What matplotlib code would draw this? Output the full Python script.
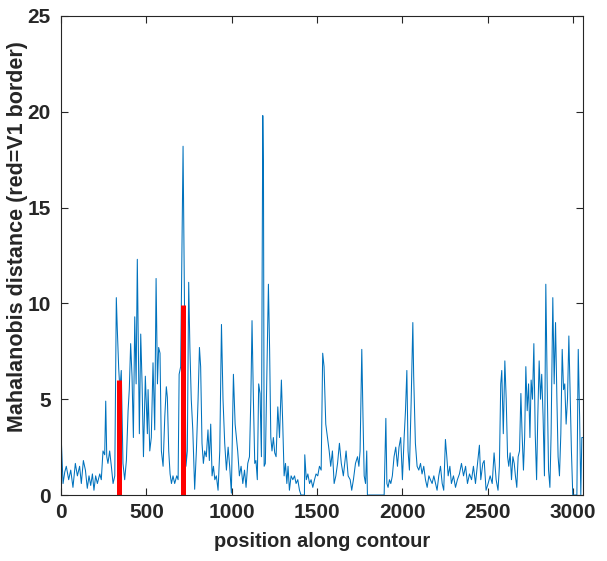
import matplotlib
matplotlib.use('Agg')
import matplotlib.pyplot as plt
import numpy as np

# position along contour and Mahalanobis distance
pos = [0, 2, 12, 22, 31, 45, 57, 70, 84, 96, 109, 119, 131, 143, 154, 164, 174, 184, 193,
       203, 213, 227, 236, 246, 256, 262, 268, 275, 285, 295, 305, 315, 324, 330, 338, 345,
       353, 363, 373, 383, 393, 400, 408, 416, 424, 432, 440, 447, 453, 459, 467, 475, 483,
       494, 506, 510, 520, 529, 539, 549, 557, 565, 572, 580, 588, 598, 608, 617, 623, 631,
       639, 647, 656, 666, 678, 686, 692, 701, 715, 724, 732, 740, 748, 755, 763, 772, 783,
       793, 803, 811, 818, 826, 834, 842, 851, 861, 869, 877, 885, 893, 901, 910, 920, 930,
       940, 949, 959, 969, 979, 988, 998, 1010, 1020, 1035, 1045, 1055, 1065, 1075, 1084,
       1094, 1104, 1112, 1119, 1127, 1135, 1142, 1150, 1158, 1166, 1174, 1182, 1186, 1190,
       1197, 1205, 1215, 1222, 1229, 1236, 1244, 1252, 1260, 1270, 1280, 1291, 1299, 1307,
       1315, 1323, 1330, 1338, 1348, 1358, 1368, 1377, 1387, 1397, 1406, 1426, 1428, 1437,
       1446, 1456, 1465, 1475, 1485, 1494, 1504, 1514, 1524, 1533, 1541, 1551, 1561, 1571,
       1580, 1590, 1600, 1610, 1620, 1631, 1642, 1654, 1670, 1682, 1694, 1703, 1713, 1725,
       1737, 1745, 1752, 1762, 1769, 1776, 1784, 1791, 1795, 1893, 1903, 1909, 1916, 1924,
       1932, 1941, 1951, 1961, 1971, 1980, 1990, 2000, 2010, 2018, 2026, 2033, 2041, 2051,
       2061, 2066, 2076, 2086, 2096, 2106, 2115, 2125, 2135, 2145, 2155, 2164, 2174, 2184,
       2194, 2203, 2213, 2223, 2233, 2242, 2252, 2260, 2268, 2278, 2287, 2299, 2311, 2322,
       2334, 2346, 2358, 2370, 2381, 2393, 2405, 2416, 2428, 2440, 2451, 2459, 2471, 2479,
       2490, 2502, 2514, 2526, 2537, 2549, 2560, 2568, 2576, 2582, 2591, 2600, 2608, 2616,
       2623, 2631, 2639, 2647, 2655, 2662, 2670, 2678, 2686, 2694, 2701, 2709, 2716, 2723,
       2731, 2739, 2747, 2754, 2762, 2770, 2778, 2786, 2793, 2801, 2809, 2816, 2824, 2832,
       2840, 2848, 2856, 2864, 2871, 2881, 2889, 2897, 2905, 2912, 2920, 2928, 2936, 2944,
       2951, 2959, 2967, 2975, 2983, 2990, 2998, 3022, 3030, 3038, 3045, 3051, 3058]
dist = [2.7, 2.8, 0.6, 1.2, 1.5, 0.8, 1.3, 0.4, 1.65, 1.0, 1.5, 0.6, 1.8, 1.3, 0.35, 1.0, 0.5, 1.1, 0.25,
        1.0, 0.6, 1.1, 0.8, 2.3, 2.1, 4.9, 2.0, 1.65, 2.3, 1.5, 0.6, 1.0, 10.3, 8.6, 6.6, 5.5,
        6.5, 1.65, 0.8, 1.8, 4.4, 5.5, 7.9, 6.2, 3.0, 9.3, 5.8, 12.3, 7.6, 3.2, 8.4, 5.8, 2.0,
        6.2, 3.2, 5.5, 2.3, 3.0, 6.9, 3.4, 11.3, 5.8, 7.7, 7.4, 2.3, 1.5, 4.1, 5.65, 5.1, 2.3,
        1.1, 0.6, 1.0, 0.6, 1.0, 0.8, 6.3, 6.7, 18.2, 9.3, 1.5, 2.3, 11.1, 7.7, 5.0, 3.4, 0.3,
        2.3, 5.0, 7.7, 6.7, 2.7, 1.65, 2.3, 2.0, 3.4, 1.8, 3.7, 1.0, 1.5, 0.8, 1.0, 0.25, 2.3,
        8.9, 5.0, 2.7, 1.3, 2.5, 1.5, 0.1, 6.3, 3.7, 2.3, 1.0, 1.5, 0.6, 1.3, 0.4,
        1.65, 2.0, 5.0, 9.1, 5.0, 1.65, 1.8, 0.8, 5.8, 5.3, 2.0, 19.8, 17.0, 1.5,
        1.65, 5.8, 11.0, 7.6, 3.0, 2.3, 3.0, 2.2, 2.0, 4.6, 3.0, 6.0, 3.7, 1.0,
        1.65, 0.6, 1.5, 0.25, 1.0, 0.8, 1.0, 0.6, 0.8, 0.25, 0.0, 0.0, 2.1, 0.8,
        1.1, 0.6, 0.8, 0.4, 0.8, 1.1, 1.0, 1.5, 1.3, 7.4, 6.7, 3.7, 3.0, 2.3,
        1.5, 2.3, 0.6, 1.0, 1.65, 2.7, 1.65, 1.0, 2.3, 1.0, 0.8, 0.25, 0.8, 1.65,
        2.0, 1.5, 2.3, 7.6, 4.1, 1.0, 0.6, 2.3, 0.0, 0.0, 4.0, 0.6, 0.4, 0.8,
        0.6, 1.0, 2.0, 2.5, 1.5, 2.5, 3.0, 0.8, 3.0, 4.4, 6.5, 2.3, 1.3, 4.8,
        9.0, 6.2, 2.7, 1.5, 1.3, 1.65, 1.1, 1.5, 0.8, 0.4, 1.0, 0.8, 0.6, 1.0,
        0.6, 0.25, 1.0, 1.5, 0.6, 0.25, 2.9, 2.0, 1.0, 1.5, 0.6, 1.0, 0.4, 0.8,
        1.1, 1.65, 1.0, 1.5, 0.6, 1.1, 0.8, 1.5, 0.6, 1.65, 2.6, 0.8, 1.65, 1.8,
        0.25, 0.6, 1.0, 0.6, 2.2, 0.8, 0.25, 1.5, 5.8, 6.5, 3.2, 7.0, 5.0, 2.0,
        1.5, 2.2, 0.8, 2.0, 1.65, 1.0, 0.4, 2.0, 2.3, 5.3, 3.2, 1.3, 3.0, 6.7,
        4.4, 5.8, 3.0, 6.0, 5.0, 7.9, 3.2, 0.8, 4.1, 7.0, 5.0, 6.3, 4.1, 1.0,
        11.0, 5.8, 1.3, 0.4, 3.2, 10.3, 5.8, 9.0, 5.0, 2.0, 1.0, 3.2, 7.6, 5.5,
        5.8, 3.7, 5.0, 8.3, 5.0, 2.3, 0.0, 0.0, 7.6, 4.1, 0.0, 3.0, 3.0]

# V1 border positions (red bars)
border_pos = [337, 713]
border_height = [6.0, 9.9]

fig = plt.figure(figsize=(6.07, 5.61), dpi=100)
ax = fig.add_axes([0.1005, 0.1176, 0.86, 0.854])

ax.plot(pos, dist, color='#0072BD', linewidth=0.75)
for bx, bh in zip(border_pos, border_height):
    ax.plot([bx, bx], [0, bh], color='red', linewidth=3.6, solid_capstyle='butt', clip_on=False)

ax.set_xlim(0, 3058)
ax.set_ylim(0, 25)
ax.set_xticks(np.arange(0, 3001, 500))
ax.set_yticks(np.arange(0, 26, 5))

font = dict(family='Liberation Sans', weight='bold')
ax.tick_params(direction='in', length=5, width=0.8, top=True, right=True,
               colors='#262626', labelsize=15)
ax.tick_params(axis='x', pad=6)
ax.tick_params(axis='y', pad=7.5)
for lab in ax.get_xticklabels() + ax.get_yticklabels():
    lab.set_fontfamily('Liberation Sans')
    lab.set_fontweight('bold')
for sp in ax.spines.values():
    sp.set_color('#262626')
    sp.set_linewidth(0.8)

ax.set_xlabel('position along contour', fontsize=14.4, color='#262626', **font)
ax.set_ylabel('Mahalanobis distance (red=V1 border)', fontsize=15.5, color='#262626', **font)
ax.xaxis.set_label_coords(0.5, -0.078)
ax.yaxis.set_label_coords(-0.064, 0.54)

plt.savefig('out.png', dpi=100)
